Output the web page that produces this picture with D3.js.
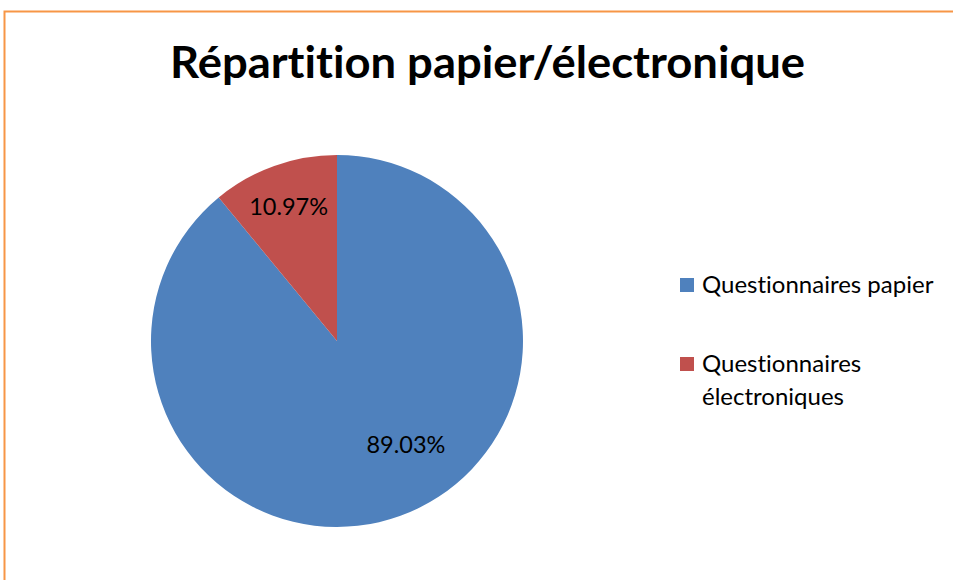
<!DOCTYPE html>
<html>
<head>
<meta charset="utf-8">
<script src="https://cdn.jsdelivr.net/npm/d3@7"></script>
<style>
  body { margin: 0; background: white; }
  svg { display: block; }
  text { font-variant-ligatures: none; font-feature-settings: "liga" 0, "clig" 0; }
</style>
</head>
<body>
<svg id="chart" width="953" height="580"></svg>
<script>
// data
const categories = ['Questionnaires papier', 'Questionnaires électroniques']
const values = [89.03, 10.97]
const colors = ['#4f81bd', '#c0504d']
const title = 'Répartition papier/électronique'

const svg = d3.select('#chart')
const font = 'Lato, "Open Sans", sans-serif'

// orange frame (runs off the right and bottom edges)
svg.append('rect')
    .attr('x', 4.5)
    .attr('y', 11.5)
    .attr('width', 1000)
    .attr('height', 1000)
    .attr('fill', 'none')
    .attr('stroke', '#f79646')
    .attr('stroke-width', 2)

// title
svg.append('text')
    .text(title)
    .attr('x', 487.5)
    .attr('y', 78)
    .attr('text-anchor', 'middle')
    .attr('font-family', font)
    .attr('font-weight', 'bold')
    .attr('font-size', 43)
    .attr('textLength', 635)
    .attr('lengthAdjust', 'spacingAndGlyphs')
    .attr('fill', 'black')

// pie
const cx = 337, cy = 341, r = 186
const pie = d3.pie().sort(null).value(d => d)
const arcs = pie(values)
const arc = d3.arc().innerRadius(0).outerRadius(r)

const g = svg.append('g')
    .attr('transform', `translate(${cx}, ${cy})`)

g.selectAll('path.slice')
    .data(arcs)
    .join('path')
        .attr('class', 'slice')
        .attr('d', arc)
        .attr('fill', (d, i) => colors[i])

// label placement (fraction of radius, angle shift in degrees) like Excel best fit
const labelPlace = [[0.667, -14], [0.77, 0]]
g.selectAll('text.pct')
    .data(arcs)
    .join('text')
        .attr('class', 'pct')
        .text(d => d3.format('.2f')(d.data) + '%')
        .attr('x', (d, i) => {
            const a = (d.startAngle + d.endAngle) / 2 + labelPlace[i][1] * Math.PI / 180
            return Math.sin(a) * r * labelPlace[i][0]
        })
        .attr('y', (d, i) => {
            const a = (d.startAngle + d.endAngle) / 2 + labelPlace[i][1] * Math.PI / 180
            return -Math.cos(a) * r * labelPlace[i][0]
        })
        .attr('dy', '0.36em')
        .attr('text-anchor', 'middle')
        .attr('font-family', font)
        .attr('font-size', 23.5)
        .attr('fill', 'black')

// legend
const legend = svg.append('g')
    .attr('transform', 'translate(680, 278)')

const item = legend.selectAll('g.item')
    .data(categories)
    .join('g')
        .attr('class', 'item')
        .attr('transform', (d, i) => `translate(0, ${i * 79})`)

item.append('rect')
    .attr('width', 14)
    .attr('height', 14)
    .attr('fill', (d, i) => colors[i])

item.each(function (d) {
    // wrap the second label the way the reference does
    const lines = d.length > 22 ? d.split(' ') : [d]
    const t = d3.select(this).append('text')
        .attr('font-family', font)
        .attr('font-size', 24)
        .attr('fill', 'black')
    lines.forEach((line, k) => {
        t.append('tspan')
            .text(line)
            .attr('x', 22)
            .attr('y', 15 + k * 33)
    })
})
</script>
</body>
</html>
